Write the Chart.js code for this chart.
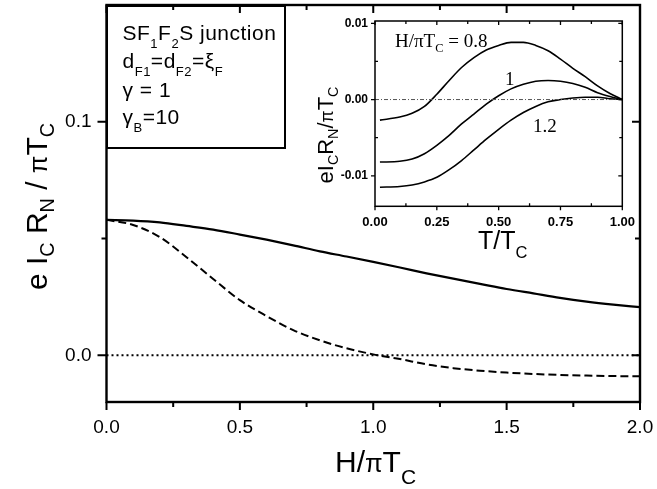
<!DOCTYPE html>
<html>
<head>
<meta charset="utf-8">
<title>SF1F2S junction critical current</title>
<script src="https://cdn.jsdelivr.net/npm/chart.js@4.4.1/dist/chart.umd.min.js"></script>
<style>
  html, body { margin: 0; padding: 0; background: #fff; }
  #wrap { position: relative; width: 657px; height: 489px; }
  #wrap canvas { position: absolute; left: 0; top: 0; }
</style>
</head>
<body>
<div id="wrap">
  <canvas id="mainChart" width="657" height="489"></canvas>
  <canvas id="insetChart" width="657" height="489"></canvas>
</div>
<script>
var SANS = "'Liberation Sans', Arial, sans-serif";
var SERIF = "'Liberation Serif', 'Times New Roman', serif";

// main panel: eIcRn/piTc against H/piTc
var fieldH = [0, 0.1, 0.2, 0.3, 0.4, 0.5, 0.6, 0.7, 0.8, 0.9, 1.0,
              1.1, 1.2, 1.3, 1.4, 1.5, 1.6, 1.7, 1.8, 1.9, 2.0];
var icSolid = [0.0580, 0.0577, 0.0569, 0.0554, 0.0538, 0.0517, 0.0495, 0.0471, 0.0445, 0.0423, 0.0400,
               0.0376, 0.0351, 0.0328, 0.0306, 0.0284, 0.0265, 0.0246, 0.0230, 0.0217, 0.0206];
var icDashed = [0.0580, 0.0558, 0.0506, 0.0420, 0.0327, 0.0236, 0.0168, 0.0108, 0.0064, 0.0030, 0.0004,
                -0.0016, -0.0039, -0.0055, -0.0066, -0.0074, -0.0080, -0.0084, -0.0087, -0.0089, -0.0090];
var zeroH = [0, 2];
var zeroV = [0, 0];
var mainXTicks = [0, 0.5, 1, 1.5, 2];
var mainXLabels = ['0.0', '0.5', '1.0', '1.5', '2.0'];
var mainXMinor = [0.25, 0.75, 1.25, 1.75];
var mainYTicks = [0, 0.1];
var mainYLabels = ['0.0', '0.1'];
var mainYMinor = [0.05];

// inset: temperature dependence for three fields
var tempT = [0.02, 0.1, 0.15, 0.2, 0.25, 0.3, 0.35, 0.4, 0.45, 0.5,
             0.55, 0.6, 0.65, 0.7, 0.75, 0.8, 0.85, 0.9, 0.95, 1.0];
var icH08 = [-0.0027, -0.0023, -0.0018, -0.0009, 0.0007, 0.0025, 0.0042, 0.0055, 0.0065, 0.0071,
             0.0075, 0.0075, 0.0071, 0.0064, 0.0053, 0.0041, 0.0030, 0.0018, 0.0008, 0];
var icH10 = [-0.0082, -0.0081, -0.0078, -0.0071, -0.0060, -0.0047, -0.0032, -0.0019, -0.0006, 0.0005,
             0.0014, 0.0020, 0.0024, 0.0025, 0.0024, 0.0021, 0.0016, 0.0009, 0.0004, 0];
var icH12 = [-0.0115, -0.0114, -0.0112, -0.0108, -0.0102, -0.0092, -0.0080, -0.0066, -0.0052, -0.0039,
             -0.0027, -0.0017, -0.0009, -0.0003, 0.0000, 0.0002, 0.0003, 0.0003, 0.0001, 0];
var insetZeroT = [0, 1];
var insetZeroV = [0, 0];
var insetXTicks = [0, 0.25, 0.5, 0.75, 1];
var insetXLabels = ['0.00', '0.25', '0.50', '0.75', '1.00'];
var insetXMinor = [0.125, 0.375, 0.625, 0.875];
var insetYTicks = [-0.01, 0, 0.01];
var insetYLabels = ['-0.01', '0.00', '0.01'];
var insetYMinor = [-0.005, 0.005];

function pts(xs, ys) {
  return xs.map(function (x, i) { return { x: x, y: ys[i] }; });
}

function curve(xs, ys, width, dash) {
  return {
    data: pts(xs, ys),
    showLine: true,
    borderColor: '#000',
    borderWidth: width,
    borderDash: dash || [],
    pointRadius: 0,
    cubicInterpolationMode: 'monotone',
  };
}

// the plot box is placed by hand, so drop the label overhang chart.js reserves
function noOverhang(s) {
  s.paddingTop = 0; s.paddingBottom = 0;
  s.paddingLeft = 0; s.paddingRight = 0;
}

// text pieces in one run; sub pieces are smaller and dropped below the baseline
function pieceFont(p, st) {
  var s = p.sub ? st.size * st.subScale : st.size * (p.scale || 1);
  return (st.weight || '') + ' ' + s + 'px ' + st.family;
}
function richWidth(ctx, pieces, st) {
  var w = 0;
  ctx.letterSpacing = st.spacing || '0px';
  pieces.forEach(function (p) {
    ctx.font = pieceFont(p, st);
    w += ctx.measureText(p.t).width;
  });
  return w;
}
function richText(ctx, pieces, x, y, st) {
  ctx.textBaseline = 'alphabetic';
  ctx.textAlign = 'left';
  ctx.letterSpacing = st.spacing || '0px';
  pieces.forEach(function (p) {
    ctx.font = pieceFont(p, st);
    ctx.fillText(p.t, x, y + (p.sub ? st.subDy : 0));
    x += ctx.measureText(p.t).width;
  });
  ctx.letterSpacing = '0px';
}

// box outline plus tick marks, placed through the chart's own scales
function frameTicks(chart, o) {
  var ctx = chart.ctx, a = chart.chartArea;
  var xs = chart.scales.x, ys = chart.scales.y;
  ctx.save();
  ctx.strokeStyle = '#000';
  ctx.lineWidth = o.frame;
  ctx.strokeRect(a.left, a.top, a.right - a.left, a.bottom - a.top);
  ctx.lineWidth = o.tick;
  ctx.beginPath();
  function xt(v, outB, inT) {
    var p = xs.getPixelForValue(v);
    ctx.moveTo(p, a.bottom + outB[0]); ctx.lineTo(p, a.bottom - outB[1]);
    ctx.moveTo(p, a.top); ctx.lineTo(p, a.top + inT);
  }
  function yt(v, outL, inR) {
    var p = ys.getPixelForValue(v);
    ctx.moveTo(a.left - outL[0], p); ctx.lineTo(a.left + outL[1], p);
    ctx.moveTo(a.right, p); ctx.lineTo(a.right - inR, p);
  }
  o.xMajor.forEach(function (v) { xt(v, o.xMajorB, o.topMajor); });
  o.xMinor.forEach(function (v) { xt(v, o.xMinorB, o.topMinor); });
  o.yMajor.forEach(function (v) { yt(v, o.yMajorL, o.rightMajor); });
  o.yMinor.forEach(function (v) { yt(v, o.yMinorL, o.rightMinor); });
  ctx.stroke();
  ctx.restore();
}

var mainDecor = {
  id: 'mainDecor',
  afterDraw: function (chart) {
    var ctx = chart.ctx;
    frameTicks(chart, {
      frame: 2.4, tick: 2,
      xMajor: mainXTicks, xMinor: mainXMinor, yMajor: mainYTicks, yMinor: mainYMinor,
      xMajorB: [8, 0], xMinorB: [5, 0], topMajor: 8, topMinor: 5,
      yMajorL: [9, 0], yMinorL: [5, 0], rightMajor: 8, rightMinor: 5,
    });
    ctx.save();
    ctx.fillStyle = '#000';

    // y title, rotated
    var yTitle = [{ t: 'e' }, { t: ' ' }, { t: 'I' }, { t: 'C', sub: true }, { t: ' ' }, { t: 'R' },
                  { t: 'N', sub: true }, { t: ' / ' }, { t: 'π', scale: 0.85 }, { t: 'T' }, { t: 'C', sub: true }];
    var yst = { size: 30, family: SANS, subScale: 0.66, subDy: 7 };
    var w = richWidth(ctx, yTitle, yst);
    ctx.save();
    ctx.translate(46.5, 206.5 + w / 2);
    ctx.rotate(-Math.PI / 2);
    richText(ctx, yTitle, 0, 0, yst);
    ctx.restore();

    // x title
    richText(ctx, [{ t: 'H' }, { t: '/' }, { t: 'π', scale: 0.85 }, { t: 'T' }, { t: 'C', sub: true }],
      335, 471.5, { size: 30, family: SANS, subScale: 0.7, subDy: 12 });

    // parameter box
    ctx.lineWidth = 2;
    ctx.strokeStyle = '#000';
    ctx.strokeRect(107, 6, 178, 142);
    var bst = { size: 21, family: SANS, subScale: 0.62, subDy: 8, spacing: '0.5px' };
    richText(ctx, [{ t: 'SF' }, { t: '1', sub: true }, { t: 'F' }, { t: '2', sub: true }, { t: 'S junction' }], 122.5, 40, bst);
    richText(ctx, [{ t: 'd' }, { t: 'F1', sub: true }, { t: '=d' }, { t: 'F2', sub: true }, { t: '=ξ' }, { t: 'F', sub: true }], 122.5, 68, bst);
    richText(ctx, [{ t: 'γ = 1' }], 122.5, 96.5, bst);
    richText(ctx, [{ t: 'γ' }, { t: 'B', sub: true }, { t: '=10' }], 122.5, 123.5, bst);
    ctx.restore();
  },
};

var insetDecor = {
  id: 'insetDecor',
  afterDraw: function (chart) {
    var ctx = chart.ctx;
    frameTicks(chart, {
      frame: 1.5, tick: 1.3,
      xMajor: insetXTicks, xMinor: insetXMinor, yMajor: insetYTicks, yMinor: insetYMinor,
      xMajorB: [4, 0], xMinorB: [0, 3], topMajor: 4, topMinor: 3,
      yMajorL: [4, 0], yMinorL: [0, 3], rightMajor: 4, rightMinor: 3,
    });
    ctx.save();
    ctx.fillStyle = '#000';

    var yTitle = [{ t: 'e' }, { t: 'I' }, { t: 'C', sub: true }, { t: 'R' }, { t: 'N', sub: true },
                  { t: '/' }, { t: 'π', scale: 0.8 }, { t: 'T' }, { t: 'C', sub: true }];
    var yst = { size: 22, family: SANS, subScale: 0.65, subDy: 5 };
    var w = richWidth(ctx, yTitle, yst);
    ctx.save();
    ctx.translate(333, 135 + w / 2);
    ctx.rotate(-Math.PI / 2);
    richText(ctx, yTitle, 0, 0, yst);
    ctx.restore();

    richText(ctx, [{ t: 'T' }, { t: '/' }, { t: 'T' }, { t: 'C', sub: true }],
      478, 248.5, { size: 25, family: SANS, subScale: 0.66, subDy: 9 });

    var sst = { size: 19, family: SERIF, subScale: 0.65, subDy: 5 };
    richText(ctx, [{ t: 'H/πT' }, { t: 'C', sub: true }, { t: ' = 0.8' }], 395, 46.5, sst);
    richText(ctx, [{ t: '1' }], 505, 85, sst);
    richText(ctx, [{ t: '1.2' }], 533, 132, sst);
    ctx.restore();
  },
};

Chart.defaults.color = '#000';

new Chart(document.getElementById('mainChart'), {
  type: 'scatter',
  data: {
    datasets: [
      curve(fieldH, icSolid, 2.2),
      curve(fieldH, icDashed, 2, [8, 4]),
      curve(zeroH, zeroV, 2, [2, 3]),
    ],
  },
  options: {
    responsive: false,
    animation: false,
    layout: { padding: { top: 5, right: 17, left: 0, bottom: 0 } },
    plugins: { legend: { display: false }, tooltip: { enabled: false } },
    scales: {
      x: {
        type: 'linear', min: 0, max: 2,
        grid: { display: false, drawTicks: false },
        border: { display: false },
        afterBuildTicks: function (s) { s.ticks = mainXTicks.map(function (v) { return { value: v }; }); },
        afterFit: function (s) { s.height = 87; noOverhang(s); },
        ticks: {
          autoSkip: false, maxRotation: 0, padding: 14,
          font: { family: SANS, size: 19 },
          callback: function (v, i) { return mainXLabels[i]; },
        },
      },
      y: {
        type: 'linear', min: -0.02, max: 0.15,
        grid: { display: false, drawTicks: false },
        border: { display: false },
        afterBuildTicks: function (s) { s.ticks = mainYTicks.map(function (v) { return { value: v }; }); },
        afterFit: function (s) { s.width = 106.5; noOverhang(s); },
        ticks: {
          padding: 15,
          font: { family: SANS, size: 19 },
          callback: function (v, i) { return mainYLabels[i]; },
        },
      },
    },
  },
  plugins: [mainDecor],
});

var insetZero = curve(insetZeroT, insetZeroV, 1, [4, 2, 1, 2]);
insetZero.borderColor = '#555';

new Chart(document.getElementById('insetChart'), {
  type: 'scatter',
  data: {
    datasets: [
      insetZero,
      curve(tempT, icH08, 1.6),
      curve(tempT, icH10, 1.6),
      curve(tempT, icH12, 1.6),
    ],
  },
  options: {
    responsive: false,
    animation: false,
    layout: { padding: { top: 21, right: 34.7, left: 0, bottom: 0 } },
    plugins: { legend: { display: false }, tooltip: { enabled: false } },
    scales: {
      x: {
        type: 'linear', min: 0, max: 1,
        grid: { display: false, drawTicks: false },
        border: { display: false },
        afterBuildTicks: function (s) { s.ticks = insetXTicks.map(function (v) { return { value: v }; }); },
        afterFit: function (s) { s.height = 282.7; noOverhang(s); },
        ticks: {
          autoSkip: false, maxRotation: 0, padding: 8,
          font: { family: SANS, size: 13, weight: 'bold' },
          callback: function (v, i) { return insetXLabels[i]; },
        },
      },
      y: {
        type: 'linear', min: -0.014, max: 0.0103,
        grid: { display: false, drawTicks: false },
        border: { display: false },
        afterBuildTicks: function (s) { s.ticks = insetYTicks.map(function (v) { return { value: v }; }); },
        afterFit: function (s) { s.width = 375; noOverhang(s); },
        ticks: {
          padding: 7,
          font: { family: SANS, size: 12, weight: 'bold' },
          callback: function (v, i) { return insetYLabels[i]; },
        },
      },
    },
  },
  plugins: [insetDecor],
});
</script>
</body>
</html>
